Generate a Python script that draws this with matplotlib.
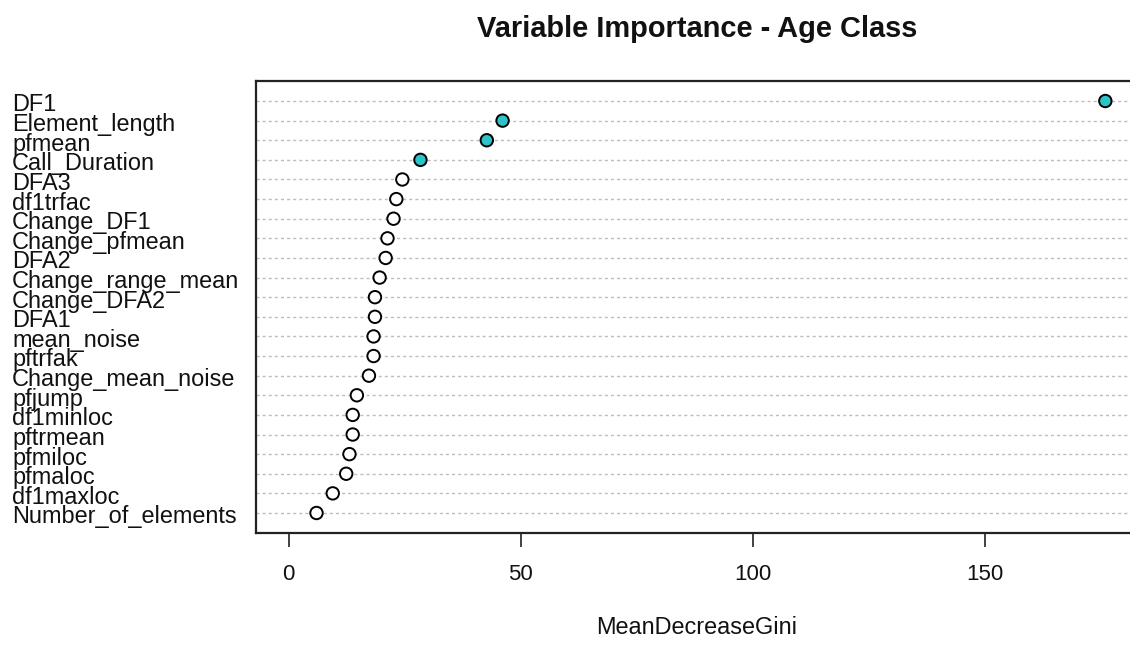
import matplotlib
matplotlib.use("Agg")
import matplotlib.pyplot as plt
from matplotlib.transforms import blended_transform_factory, offset_copy

# Variable importance (MeanDecreaseGini), most important first
variables = [
    "DF1", "Element_length", "pfmean", "Call_Duration", "DFA3", "df1trfac",
    "Change_DF1", "Change_pfmean", "DFA2", "Change_range_mean", "Change_DFA2",
    "DFA1", "mean_noise", "pftrfak", "Change_mean_noise", "pfjump",
    "df1minloc", "pftrmean", "pfmiloc", "pfmaloc", "df1maxloc",
    "Number_of_elements",
]
gini = [
    176.0, 46.1, 42.7, 28.4, 24.5, 23.2,
    22.6, 21.3, 20.9, 19.6, 18.6,
    18.6, 18.3, 18.3, 17.3, 14.7,
    13.8, 13.8, 13.1, 12.4, 9.5,
    6.0,
]
n_highlight = 4
xticks = [0, 50, 100, 150]

W, H, DPI = 1130, 647, 100
fig = plt.figure(figsize=(W / DPI, H / DPI), dpi=DPI)
fig.patch.set_facecolor("white")

# plot region in pixels: left 256, right 1138 (runs past the right edge), top 81, bottom 533
left, right, top, bottom = 256, 1138, 81, 533
ax = fig.add_axes([left / W, 1 - bottom / H, (right - left) / W, (bottom - top) / H])
ax.set_xlim(-7.04, 183.04)
ax.set_ylim(-0.02, 23.02)

n = len(variables)
ypos = [n - i for i in range(n)]

for y in ypos:
    ax.axhline(y, color="#bdbdbd", lw=1.0, ls=(0, (2.2, 2.2)), zorder=1)

face = ["#2cc3c9" if i < n_highlight else "white" for i in range(n)]
ax.scatter(gini, ypos, s=80, c=face, edgecolors="black", linewidths=1.4, zorder=3)

for side in ("left", "top", "bottom"):
    ax.spines[side].set_linewidth(1.6)
    ax.spines[side].set_color("#222222")
ax.spines["right"].set_visible(False)

ax.set_yticks([])
ax.set_xticks(xticks)
ax.set_xticklabels([])
ax.tick_params(axis="x", direction="out", length=10, width=1.2, colors="#222222")

# x tick labels placed under the tick marks
xlab_trans = blended_transform_factory(ax.transData, fig.transFigure)
for t in xticks:
    ax.text(t, 1 - 575 / H, str(t), transform=xlab_trans, ha="center", va="center",
            fontsize=16, family="Liberation Sans", color="#111111")

# variable names, left-aligned at the figure margin
trans = blended_transform_factory(fig.transFigure, ax.transData)
trans = offset_copy(trans, fig=fig, x=0, y=-10.4, units="dots")
for name, y in zip(variables, ypos):
    fig.text(12 / W, y, name, transform=trans, ha="left", va="baseline",
             fontsize=16.9, family="Liberation Sans", color="#111111")

cx = (left + right) / 2 / W
fig.text(cx, 1 - 29 / H, "Variable Importance - Age Class", ha="center", va="center",
         fontsize=20.9, fontweight="bold", family="Liberation Sans", color="#111111")
fig.text(cx, 1 - 627 / H, "MeanDecreaseGini", ha="center", va="center",
         fontsize=16.9, family="Liberation Sans", color="#111111")

fig.savefig("out.png", dpi=DPI)
